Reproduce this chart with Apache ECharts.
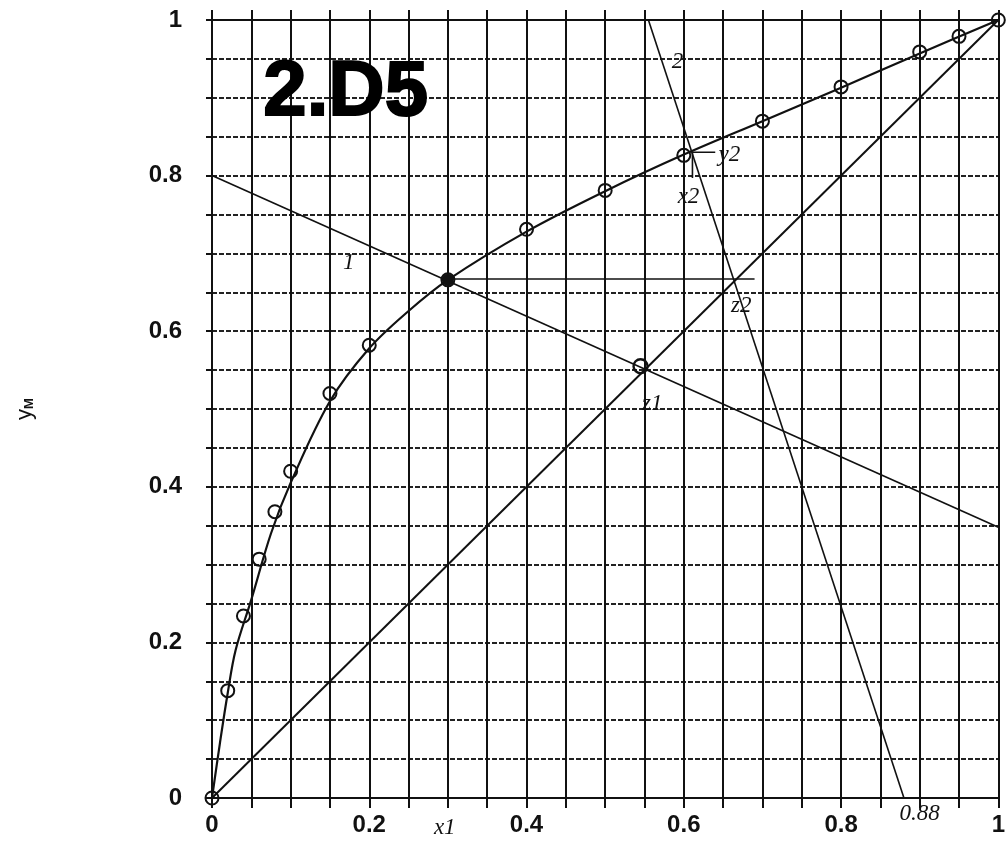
<!DOCTYPE html>
<html>
<head>
<meta charset="utf-8">
<title>2.D5 y-x diagram</title>
<script src="https://cdn.jsdelivr.net/npm/echarts@6/dist/echarts.min.js"></script>
<style>
  html, body { margin: 0; padding: 0; background: #fff; }
  #chart { width: 1008px; height: 844px; }
</style>
</head>
<body>
<div id="chart"></div>
<script>
// equilibrium data (x, y)
const eqPoints = [
  [0, 0], [0.02, 0.138], [0.04, 0.234], [0.06, 0.307], [0.08, 0.368],
  [0.1, 0.42], [0.15, 0.52], [0.2, 0.582], [0.3, 0.666], [0.4, 0.731],
  [0.5, 0.781], [0.6, 0.826], [0.7, 0.87], [0.8, 0.914], [0.9, 0.959],
  [0.95, 0.979], [1, 1]
];
// drawn smooth curve
const eqCurve = [
  [0, 0], [0.01, 0.07], [0.02, 0.135], [0.03, 0.19], [0.05, 0.255],
  [0.075, 0.34], [0.1, 0.405], [0.15, 0.51], [0.2, 0.578], [0.25, 0.626],
  [0.3, 0.666], [0.4, 0.728], [0.5, 0.78], [0.6, 0.827], [0.7, 0.87],
  [0.8, 0.913], [0.9, 0.957], [1, 1]
];
const diagonal = [[0, 0], [1, 1]];
const line1 = [[0, 0.8], [1, 0.348]];
const line2 = [[0.555, 1], [0.88, 0]];
const stepLine = [[0.3, 0.667], [0.69, 0.667]];
const tickY2 = [[0.611, 0.83], [0.64, 0.83]];
const tickX2 = [[0.611, 0.83], [0.611, 0.797]];
const feedPoints = [[0.545, 0.555]];
const solidPoints = [[0.3, 0.666]];
// handwritten notes: [text, x, y]
const notes = [
  ["1", 0.174, 0.688],
  ["2", 0.592, 0.946],
  ["y2", 0.658, 0.826],
  ["x2", 0.606, 0.772],
  ["z2", 0.673, 0.632],
  ["z1", 0.56, 0.506],
  ["x1", 0.296, -0.038],
  ["0.88", 0.9, -0.021]
];
const stamp = ["2.D5", 0.17, 0.906];

const chart = echarts.init(document.getElementById("chart"));

function tickLabel(v) {
  const r = Math.round(v * 100);
  if (r % 20 !== 0) return "";
  if (r === 0) return "0";
  if (r === 100) return "1";
  return (r / 100).toFixed(1);
}

const labelFont = {
  fontFamily: "Liberation Sans, Arial, sans-serif",
  fontWeight: "bold",
  fontSize: 24,
  color: "#111",
};

function lineSeries(data, width) {
  return {
    type: "line",
    data: data,
    symbol: "none",
    lineStyle: { color: "#111", width: width },
    silent: true,
    z: 3,
  };
}

chart.setOption({
  animation: false,
  backgroundColor: "#fff",
  grid: { left: 212, right: 3, top: 20, bottom: 46 },
  xAxis: [
    {
      type: "value",
      min: 0,
      max: 1,
      interval: 0.05,
      axisLine: { lineStyle: { color: "#111", width: 2 } },
      axisTick: { show: true, length: 10, lineStyle: { color: "#111", width: 2 } },
      axisLabel: Object.assign({ margin: 15, formatter: tickLabel, showMaxLabel: true }, labelFont),
      splitLine: { show: true, lineStyle: { color: "#111", width: 2 } },
    },
    {
      type: "value",
      position: "top",
      min: 0,
      max: 1,
      interval: 0.05,
      axisLine: { show: true, lineStyle: { color: "#111", width: 2 } },
      axisTick: { show: true, length: 10, lineStyle: { color: "#111", width: 2 } },
      axisLabel: { show: false },
      splitLine: { show: false },
    },
  ],
  yAxis: {
    type: "value",
    min: 0,
    max: 1,
    interval: 0.05,
    name: "y{m|M}",
    nameLocation: "middle",
    nameRotate: 90,
    nameGap: 176,
    nameTextStyle: {
      fontFamily: "Liberation Sans, Arial, sans-serif",
      fontSize: 22,
      color: "#111",
      rich: { m: { fontSize: 13, fontWeight: "bold", verticalAlign: "bottom", padding: [8, 0, 0, 0] } },
    },
    axisLine: { lineStyle: { color: "#111", width: 2 } },
    axisTick: { show: true, length: 6, lineStyle: { color: "#111", width: 2 } },
    axisLabel: Object.assign({ margin: 30, formatter: tickLabel }, labelFont),
    splitLine: { show: true, lineStyle: { color: "#222", width: 2, type: [5, 2] } },
  },
  series: [
    lineSeries(diagonal, 2),
    lineSeries(line1, 1.6),
    lineSeries(line2, 1.6),
    lineSeries(stepLine, 1.6),
    lineSeries(tickY2, 1.6),
    lineSeries(tickX2, 1.6),
    Object.assign(lineSeries(eqCurve, 2.2), { smooth: 0.35 }),
    {
      type: "scatter",
      data: eqPoints,
      symbol: "circle",
      symbolSize: 13,
      itemStyle: { color: "transparent", borderColor: "#111", borderWidth: 2, opacity: 1 },
      z: 4,
    },
    {
      type: "scatter",
      data: feedPoints,
      symbol: "circle",
      symbolSize: 14,
      itemStyle: { color: "transparent", borderColor: "#111", borderWidth: 2.4, opacity: 1 },
      z: 4,
    },
    {
      type: "scatter",
      data: solidPoints,
      symbol: "circle",
      symbolSize: 12,
      itemStyle: { color: "#111", opacity: 1 },
      z: 5,
    },
    {
      type: "scatter",
      clip: false,
      silent: true,
      symbolSize: 0,
      itemStyle: { opacity: 1 },
      data: notes.map((n) => ({ value: [n[1], n[2]], name: n[0] })),
      label: {
        show: true,
        position: "inside",
        formatter: (p) => p.name,
        fontFamily: "Liberation Serif, DejaVu Serif, serif",
        fontStyle: "italic",
        fontSize: 23,
        color: "#111",
      },
      z: 6,
    },
    {
      type: "scatter",
      clip: false,
      silent: true,
      symbolSize: 0,
      itemStyle: { opacity: 1 },
      data: [{ value: [stamp[1], stamp[2]], name: stamp[0] }],
      label: {
        show: true,
        position: "inside",
        formatter: (p) => p.name,
        fontFamily: "Liberation Sans, Arial, sans-serif",
        fontWeight: 900,
        fontSize: 78,
        color: "#000",
        textBorderColor: "#000",
        textBorderWidth: 2,
      },
      z: 7,
    },
  ],
});

window.addEventListener("resize", function () {
  chart.resize();
});
</script>
</body>
</html>
